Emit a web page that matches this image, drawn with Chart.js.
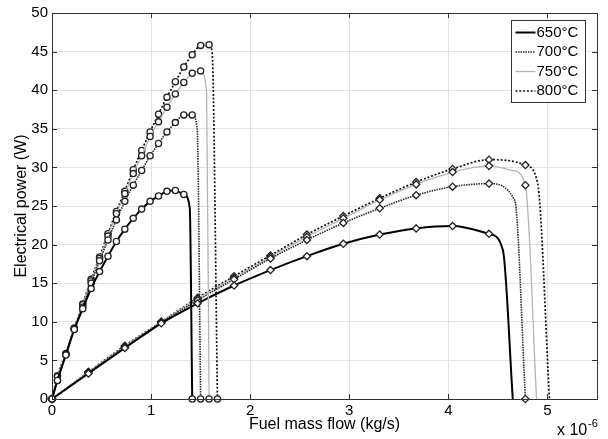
<!DOCTYPE html>
<html><head><meta charset="utf-8">
<script src="https://cdn.jsdelivr.net/npm/chart.js@4/dist/chart.umd.min.js"></script>
<style>html,body{margin:0;padding:0;background:#fff}#wrap{width:608px;height:439px;position:relative}</style>
</head><body><div id="wrap"><canvas id="c" width="608" height="439"></canvas></div>
<script>
const seriesLabels = ['650°C','700°C','750°C','800°C'];
const xTitle = 'Fuel mass flow (kg/s)';
const yTitle = 'Electrical power (W)';
const xTicks = [0,1,2,3,4,5];
const yTicks = [0,5,10,15,20,25,30,35,40,45,50];

// circle-marked family (low fuel flow)
const circleX = [0,0.055,0.14,0.225,0.31,0.395,0.48,0.565,0.65,0.735,0.82,0.905,0.99,1.075,1.16,1.245,1.33,1.415,1.50,1.585,1.67];
const circ650 = [0,2.4,5.7,9.0,11.7,14.3,16.5,18.5,20.4,22.0,23.4,24.6,25.6,26.3,26.9,27.0,26.5,0];
const circ700 = [0,2.4,5.8,9.1,11.9,15.0,17.9,20.6,23.2,25.6,27.7,29.6,31.5,33.1,34.6,35.8,36.8,36.8,0];
const circ750 = [0,2.9,5.8,9.1,12.2,15.3,18.2,21.1,24.0,26.6,29.2,31.5,34.0,35.9,37.8,39.5,41.0,42.2,42.5,0];
const circ800 = [0,3.0,5.9,9.2,12.3,15.5,18.4,21.4,24.3,26.9,29.7,32.2,34.6,36.9,39.1,41.1,43.0,44.6,45.8,45.9,0];
// unmarked points on the drop-off
const circ650Drop = [[1.39,24.8]];
const circ700Drop = [[1.465,35.0]];
const circ750Drop = [[1.56,39.8]];
const circ800Drop = [[1.615,45.0]];

// diamond-marked family (high fuel flow)
const diamX = [0,0.3675,0.735,1.1025,1.47,1.8375,2.205,2.5725,2.94,3.3075,3.675,4.0425,4.41,4.7775];
const diam650 = [0,3.3,6.6,9.8,12.4,14.7,16.7,18.5,20.1,21.3,22.1,22.4,21.4];
const diam700 = [0,3.4,6.7,9.9,12.8,15.5,18.2,20.6,22.8,24.7,26.4,27.5,27.9,0];
const diam750 = [0,3.5,6.8,10.0,13.0,15.7,18.4,21.0,23.4,25.8,27.8,29.4,30.2,27.7];
const diam800 = [0,3.5,6.9,10.0,13.1,15.9,18.6,21.3,23.7,26.0,28.1,29.8,31.0,30.3];
const diam650Drop = [[4.55,19.3],[4.65,0]];
const diam700Drop = [[4.67,25.7]];
const diam750Drop = [[4.65,29.6],[4.89,0]];
const diam800Drop = [[4.6,30.9],[4.9,28.0],[5.02,0]];

const FONT = '"Liberation Sans", Arial, Helvetica, sans-serif';
const lineStyles = [
  {color:'#000000', width:2, dash:[]},
  {color:'#2a2a2a', width:1.6, dash:[1.5,1]},
  {color:'#b4b4b4', width:1.3, dash:[]},
  {color:'#111111', width:1.7, dash:[2,1.8]}
];

function build(xs, ys, extra){
  const pts = ys.map((y,i)=>({x:xs[i], y:y, m:true}));
  extra.forEach(p=>pts.push({x:p[0], y:p[1], m:false}));
  pts.sort((a,b)=>a.x-b.x);
  return pts;
}
const circSets = [[circ650,circ650Drop],[circ700,circ700Drop],[circ750,circ750Drop],[circ800,circ800Drop]];
const diamSets = [[diam650,diam650Drop],[diam700,diam700Drop],[diam750,diam750Drop],[diam800,diam800Drop]];

function makeDs(pts, i, shape, r){
  const s = lineStyles[i];
  return {
    label: seriesLabels[i], data: pts,
    borderColor: s.color, borderWidth: s.width, borderDash: s.dash,
    cubicInterpolationMode: 'monotone', fill: false, clip: false,
    pointStyle: shape,
    pointRadius: ctx => (ctx.raw && ctx.raw.m) ? r : 0,
    pointHoverRadius: 0,
    pointBackgroundColor: '#ffffff', pointBorderColor: '#222222', pointBorderWidth: 1.3
  };
}
const datasets = [];
circSets.forEach((s,i)=>datasets.push(makeDs(build(circleX, s[0], s[1]), i, 'circle', 3.1)));
diamSets.forEach((s,i)=>datasets.push(makeDs(build(diamX, s[0], s[1]), i, 'rectRot', 3.6)));

const framePlugin = {
  id: 'frame',
  afterDatasetsDraw(chart){
    const {ctx, chartArea:a, scales:{x, y}} = chart;
    ctx.save();
    ctx.strokeStyle = '#333'; ctx.lineWidth = 1; ctx.setLineDash([]);
    ctx.strokeRect(Math.round(a.left)+0.5, Math.round(a.top)+0.5, Math.round(a.right-a.left), Math.round(a.bottom-a.top));
    ctx.beginPath();
    xTicks.forEach(v=>{
      const px = Math.round(x.getPixelForValue(v))+0.5;
      ctx.moveTo(px, a.top); ctx.lineTo(px, a.top+5);
      ctx.moveTo(px, a.bottom); ctx.lineTo(px, a.bottom-5);
    });
    yTicks.forEach(v=>{
      const py = Math.round(y.getPixelForValue(v))+0.5;
      ctx.moveTo(a.left, py); ctx.lineTo(a.left+5, py);
      ctx.moveTo(a.right, py); ctx.lineTo(a.right-5, py);
    });
    ctx.stroke();

    // legend
    const bw = 74, bh = 82;
    const bl = Math.round(a.right - 12 - bw) + 0.5, bt = Math.round(a.top + 7) + 0.5;
    ctx.fillStyle = '#fff';
    ctx.fillRect(bl, bt, bw, bh);
    ctx.strokeStyle = '#333'; ctx.lineWidth = 1;
    ctx.strokeRect(bl, bt, bw, bh);
    ctx.font = '15px ' + FONT;
    ctx.textBaseline = 'middle'; ctx.textAlign = 'left';
    seriesLabels.forEach((lab,i)=>{
      const s = lineStyles[i];
      const cy = bt + 12 + i*19.5;
      ctx.beginPath();
      ctx.strokeStyle = s.color; ctx.lineWidth = s.width; ctx.setLineDash(s.dash);
      ctx.moveTo(bl+4, cy); ctx.lineTo(bl+24, cy); ctx.stroke();
      ctx.setLineDash([]);
      ctx.fillStyle = '#000';
      ctx.fillText(lab, bl+25, cy);
    });

    // exponent label
    ctx.fillStyle = '#000';
    ctx.textBaseline = 'alphabetic';
    ctx.font = '16px ' + FONT;
    ctx.fillText('x 10', 557, 435);
    ctx.font = '11px ' + FONT;
    ctx.fillText('-6', 588, 427);
    ctx.restore();
  }
};

new Chart(document.getElementById('c'), {
  type: 'line',
  data: { datasets },
  options: {
    responsive: false, animation: false, devicePixelRatio: 1,
    layout: { padding: { top: 13, right: 11, left: 0, bottom: 0 } },
    plugins: { legend: { display: false }, tooltip: { enabled: false } },
    scales: {
      x: {
        type: 'linear', min: 0, max: 5.5,
        afterBuildTicks: s => { s.ticks = xTicks.map(v=>({value:v})); },
        afterFit: s => { s.height = 40; },
        ticks: { padding: 3, color: '#000', font: { family: FONT, size: 15 }, maxRotation: 0, autoSkip: false },
        grid: { color: '#e2e2e2', drawTicks: false },
        border: { display: true, color: '#333' },
        title: { display: true, text: xTitle, color: '#000', font: { family: FONT, size: 16 }, padding: { top: 0, bottom: 5 } }
      },
      y: {
        type: 'linear', min: 0, max: 50,
        afterBuildTicks: s => { s.ticks = yTicks.map(v=>({value:v})); },
        afterFit: s => { s.width = 52; },
        ticks: { padding: 4, color: '#000', font: { family: FONT, size: 15 }, autoSkip: false },
        grid: { color: '#e2e2e2', drawTicks: false },
        border: { display: true, color: '#333' },
        title: { display: true, text: yTitle, color: '#000', font: { family: FONT, size: 16 }, padding: { top: 12, bottom: 0 } }
      }
    }
  },
  plugins: [framePlugin]
});
</script>
</body></html>
